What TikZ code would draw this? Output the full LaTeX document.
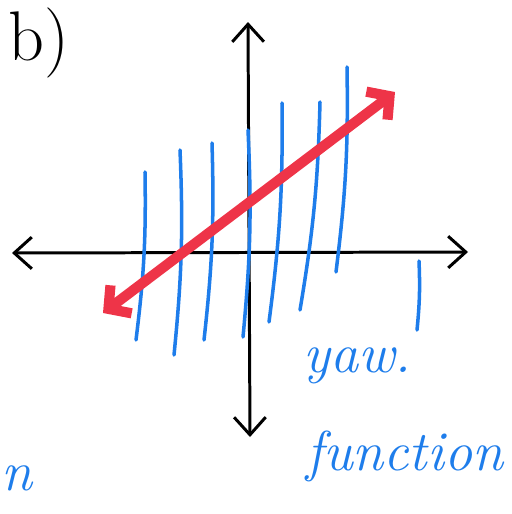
\documentclass[tikz,border=0pt]{standalone}
\usetikzlibrary{arrows.meta}
\definecolor{penblue}{RGB}{30,125,235}
\definecolor{penred}{RGB}{238,52,72}
\tikzset{
  axis/.style={line width=1.7pt, line cap=round, {Straight Barb[length=10pt, width=18pt, line width=1.7pt]}-{Straight Barb[length=10pt, width=18pt, line width=1.7pt]}},
  field/.style={line width=2pt, penblue, line cap=round},
  yawline/.style={line width=5.8pt, penred, line cap=round, {Straight Barb[length=9pt, width=20pt, line width=5.8pt]}-{Straight Barb[length=9pt, width=20pt, line width=5.8pt]}},
  note/.style={penblue, font=\fontsize{32}{34}\selectfont\itshape, inner sep=0pt, anchor=base west}
}
\begin{document}
\begin{tikzpicture}[x=0.02cm, y=-0.02cm]
\useasboundingbox (0,0) rectangle (511,514);
\begin{scope}
\clip (0,0) rectangle (511,514);
% label
\node[font=\fontsize{40}{44}\selectfont, anchor=base west, inner sep=0pt] (lbl) at (8,60) {b)};
% axes
\coordinate (xl) at (12,253);
\coordinate (xr) at (468,252);
\coordinate (yt) at (248,22);
\coordinate (yb) at (250,437);
\draw[axis] (xl) -- (xr);
\draw[axis] (yb) -- (yt);
% blue lines
\foreach \xt/\yt/\xb/\yb in {145/172/136/340, 180/150/174/355, 212/143/204/340, 248/130/243/337,
    282/103/269/322, 320/102/300/310, 347/67/336/272, 419/261/417/330}
  \draw[field] (\xt,\yt) to[bend left=4] (\xb,\yb);
% red arrow
\coordinate (rl) at (103,313);
\coordinate (rr) at (395,92);
\draw[yawline] (rl) -- (rr);
% texts
\node[note] (yaw) at (303,372) {yaw.};
\node[note] (fn) at (306,470) {function};
\node[note] (cut) at (1,490) {n};
\end{scope}
\end{tikzpicture}
\end{document}
